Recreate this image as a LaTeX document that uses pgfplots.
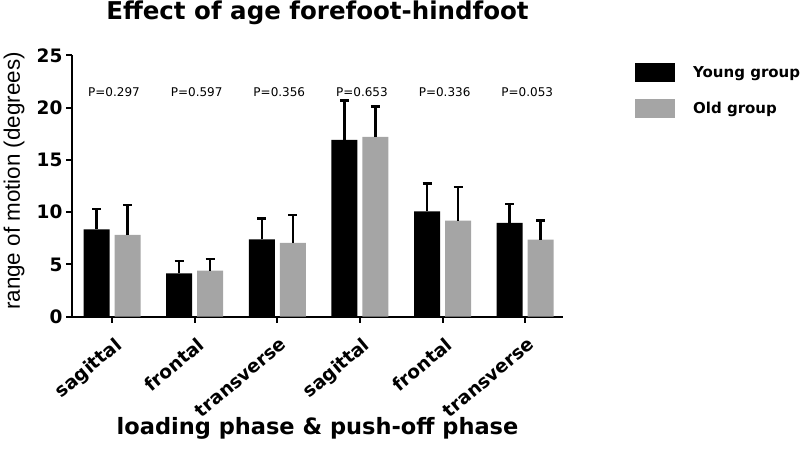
\documentclass[border=0pt]{standalone}
\usepackage{pgfplots}
\pgfplotsset{compat=1.18}
\usepackage{fontspec}
\setmainfont{DejaVu Sans}
\newfontfamily\libsans{Liberation Sans}
\definecolor{oldgray}{RGB}{165,165,165}

\begin{document}
\begin{tikzpicture}
\useasboundingbox (0,0) rectangle (800bp,454bp);
\begin{axis}[
  at={(72bp,137.3bp)}, anchor=south west,
  scale only axis, width=491bp, height=261.4bp,
  xmin=-0.484, xmax=5.457, ymin=0, ymax=25,
  axis lines*=left,
  axis line style={line width=2bp,-},
  ybar=5bp, bar width=26bp,
  xtick={0,...,5},
  xticklabels={sagittal,frontal,transverse,sagittal,frontal,transverse},
  ytick={0,5,...,25},
  tick align=outside, major tick length=6bp,
  tick style={line width=2bp, black},
  /pgf/number format/assume math mode=true,
  yticklabel style={font=\fontsize{18.5bp}{20bp}\selectfont\bfseries},
  xticklabel style={font=\fontsize{18.5bp}{20bp}\selectfont\bfseries,
    xshift=2bp, yshift=-12bp, rotate=40, anchor=north east, inner sep=1bp},
  error bars/y dir=plus, error bars/y explicit,
  error bars/error bar style={line width=2.5bp, black},
  error bars/error mark options={line width=2.5bp, black, mark size=4.5bp, rotate=90},
  legend style={at={(1.1466,0.9706)}, anchor=north west, draw=none, fill=none,
    inner sep=0pt, row sep=17bp,
    font=\fontsize{15bp}{18bp}\selectfont\bfseries, cells={anchor=west}},
  legend image code/.code={\fill[#1] (0bp,-9.5bp) rectangle (40bp,9.5bp);},
]
\addplot[fill=black, draw=none] coordinates {
  (0,8.36) +- (0,1.92)
  (1,4.15) +- (0,1.18)
  (2,7.40) +- (0,2.00)
  (3,16.9) +- (0,3.80)
  (4,10.08) +- (0,2.68)
  (5,8.97) +- (0,1.81)
};
\addplot[fill=oldgray, draw=none] coordinates {
  (0,7.82) +- (0,2.87)
  (1,4.40) +- (0,1.12)
  (2,7.05) +- (0,2.68)
  (3,17.2) +- (0,2.90)
  (4,9.19) +- (0,3.21)
  (5,7.37) +- (0,1.85)
};
\legend{\hspace*{16bp}Young group, \hspace*{16bp}Old group}
\begin{scope}[every node/.style={font=\fontsize{12bp}{14bp}\selectfont, xshift=2bp}]
\node at (axis cs:0,21.5) {P=0.297};
\node at (axis cs:1,21.5) {P=0.597};
\node at (axis cs:2,21.5) {P=0.356};
\node at (axis cs:3,21.5) {P=0.653};
\node at (axis cs:4,21.5) {P=0.336};
\node at (axis cs:5,21.5) {P=0.053};
\end{scope}
\end{axis}
\node[anchor=base, font=\bfseries\fontsize{24.5bp}{28bp}\selectfont] at (317.5bp,434bp) {Effect of age forefoot-hindfoot};
\node[rotate=90, font=\libsans\fontsize{22.4bp}{25bp}\selectfont] at (14bp,273bp) {range of motion (degrees)};
\node[anchor=base, font=\bfseries\fontsize{22.5bp}{26bp}\selectfont] at (317.5bp,20bp) {loading phase \& push-off phase};
\end{tikzpicture}
\end{document}
